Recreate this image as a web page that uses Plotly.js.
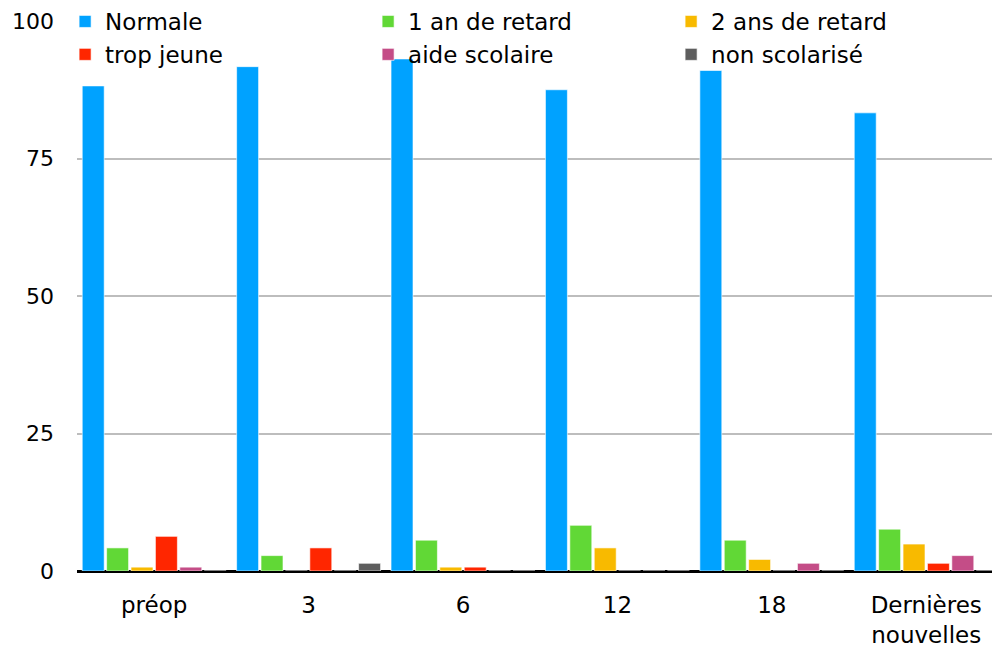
<!DOCTYPE html>
<html>
<head>
<meta charset="utf-8">
<script src="https://cdn.plot.ly/plotly-3.0.1.min.js"></script>
<style>html,body{margin:0;padding:0;background:#fff;}#chart{width:992px;height:650px;}</style>
</head>
<body>
<div id="chart"></div>
<script>
var categories = ["préop", "3", "6", "12", "18", "Dernières<br>nouvelles"];
var seriesNames = ["Normale", "1 an de retard", "2 ans de retard", "trop jeune", "aide scolaire", "non scolarisé"];
var normale = [88.2, 91.7, 93.1, 87.5, 91.0, 83.3];
var unAn = [4.2, 2.8, 5.6, 8.3, 5.6, 7.6];
var deuxAns = [0.7, 0, 0.7, 4.2, 2.1, 4.9];
var tropJeune = [6.3, 4.2, 0.7, 0, 0, 1.4];
var aideScolaire = [0.7, 0, 0, 0, 1.4, 2.8];
var nonScolarise = [0, 1.4, 0, 0, 0, 0];
var yTicks = [0, 25, 50, 75, 100];

var seriesValues = [normale, unAn, deuxAns, tropJeune, aideScolaire, nonScolarise];
var colors = ["#00A2FF", "#61D836", "#F8BA00", "#FF2600", "#C44D87", "#5E5E5E"];

var traces = seriesNames.map(function (name, i) {
  return {
    type: "bar",
    name: name,
    x: categories,
    y: seriesValues[i],
    marker: { color: colors[i], line: { color: "rgba(255,255,255,0.6)", width: 1 } },
    hoverinfo: "x+y+name"
  };
});

var font = "DejaVu Sans, sans-serif";
var layout = {
  width: 992,
  height: 650,
  margin: { l: 77, r: 0, t: 19, b: 79, pad: 0 },
  paper_bgcolor: "#fff",
  plot_bgcolor: "#fff",
  barmode: "group",
  bargap: 0.052,
  bargroupgap: 0.1,
  font: { family: font, size: 22, color: "#000" },
  xaxis: {
    type: "category",
    range: [-0.5, 5.426],
    showgrid: false,
    showline: false,
    zeroline: false,
    ticks: "",
    tickfont: { family: font, size: 23, color: "#000" },
    ticklabelstandoff: 18
  },
  yaxis: {
    range: [0, 100],
    tickvals: yTicks,
    ticktext: yTicks.map(String),
    showgrid: true,
    gridcolor: "#BDBDBD",
    gridwidth: 2,
    zeroline: true,
    zerolinecolor: "#000",
    zerolinewidth: 3,
    showline: false,
    ticks: "",
    tickfont: { family: font, size: 22, color: "#000" },
    ticklabelstandoff: 22
  },
  showlegend: true,
  legend: {
    orientation: "h",
    x: -0.013,
    xanchor: "left",
    y: 1.039,
    yanchor: "top",
    bgcolor: "rgba(0,0,0,0)",
    entrywidth: 258,
    entrywidthmode: "pixels",
    font: { family: font, size: 23, color: "#000" },
    traceorder: "normal",
    itemwidth: 30
  }
};

Plotly.newPlot("chart", traces, layout, { displayModeBar: false, staticPlot: true });
</script>
</body>
</html>
